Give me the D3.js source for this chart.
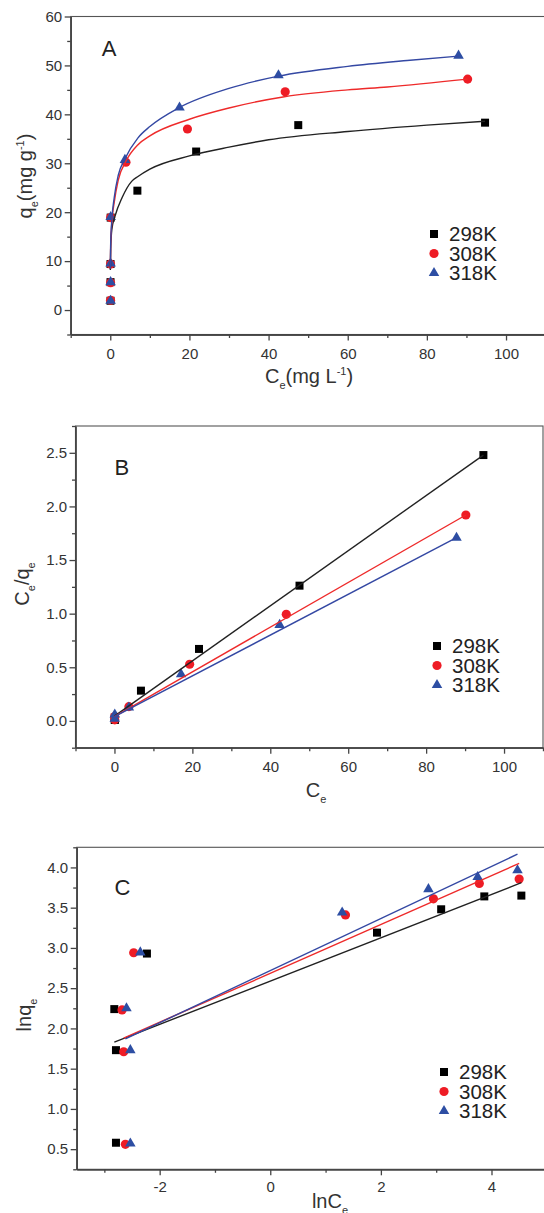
<!DOCTYPE html>
<html><head><meta charset="utf-8">
<script src="https://cdn.jsdelivr.net/npm/d3@7"></script>
<style>
body{margin:0;background:#fff}
svg{display:block}
text{font-family:"Liberation Sans",Arial,sans-serif}
</style>
</head><body>
<svg id="c" width="544" height="1213"></svg>
<script>
// ---------- data ----------
const seriesNames = ["298K","308K","318K"];

// Panel A: qe vs Ce (points)
const a298 = [[0.06,1.9],[0.06,5.7],[0.06,9.4],[0.11,18.9],[6.85,24.4],[21.7,32.4],[47.5,37.8],[94.7,38.3]];
const a308 = [[0.07,2.0],[0.07,5.6],[0.07,9.4],[0.09,18.9],[3.96,30.2],[19.5,37.0],[44.2,44.6],[90.3,47.2]];
const a318 = [[0.08,1.9],[0.08,5.7],[0.08,9.5],[0.1,19.0],[3.7,30.7],[17.5,41.4],[42.5,48.0],[88.0,52.0]];
// Panel A fitted curves
const aFit298 = [[0.02,8.2],[0.1,12.5],[0.4,16.5],[1.2,19.2],[3,23.0],[5.4,26.3],[7,27.3],[10,28.8],[20,31.5],[30,33.3],[40,34.8],[60,36.5],[80,37.8],[94.7,38.6]];
const aFit308 = [[0.02,8.5],[0.1,13],[0.4,18],[1,22],[2,26.5],[4,30.5],[7,33.8],[10,35.6],[20,39.0],[30,41.3],[44,43.6],[60,45.0],[70,45.6],[90.3,47.2]];
const aFit318 = [[0.02,8.5],[0.1,13.5],[0.4,18.5],[1,23],[2,27.5],[3.7,30.9],[7,35.2],[10,37.5],[17.5,41.4],[30,45.3],[42.5,47.8],[60,49.8],[75,51.0],[88,51.9]];

// Panel B: Ce/qe vs Ce
const b298 = [[0.07,0.03],[0.07,0.01],[0.11,0.01],[6.8,0.282],[21.7,0.671],[47.5,1.261],[94.7,2.479]];
const b308 = [[0.07,0.04],[0.07,0.01],[3.7,0.133],[19.3,0.528],[44.1,0.994],[90.2,1.92]];
const b318 = [[0.08,0.06],[0.08,0.02],[3.7,0.125],[17.1,0.435],[42.4,0.895],[87.8,1.708]];
const bFit298 = [[0,0.045],[94.7,2.479]];
const bFit308 = [[0,0.04],[90.2,1.92]];
const bFit318 = [[0,0.04],[87.8,1.708]];

// Panel C: lnqe vs lnCe
const c298 = [[-2.82,2.24],[-2.79,1.73],[-2.79,0.58],[-2.23,2.93],[1.93,3.19],[3.09,3.48],[3.87,3.64],[4.54,3.65]];
const c308 = [[-2.68,2.23],[-2.65,1.71],[-2.62,0.56],[-2.47,2.94],[1.36,3.41],[2.95,3.61],[3.78,3.80],[4.50,3.855]];
const c318 = [[-2.60,2.25],[-2.53,1.73],[-2.53,0.57],[-2.35,2.945],[1.30,3.44],[2.86,3.73],[3.75,3.88],[4.47,3.965]];
const cFit298 = [[-2.82,1.83],[4.54,3.81]];
const cFit308 = [[-2.65,1.88],[4.50,4.05]];
const cFit318 = [[-2.62,1.87],[4.47,4.165]];

// ticks
const aXMajor = [0,20,40,60,80,100], aXMinor = [-10,10,30,50,70,90,110];
const aYMajor = [0,10,20,30,40,50,60], aYMinor = [-5,5,15,25,35,45,55];
const bXMajor = [0,20,40,60,80,100], bXMinor = [-10,10,30,50,70,90,110];
const bYMajor = [0,0.5,1,1.5,2,2.5], bYMinor = [-0.25,0.25,0.75,1.25,1.75,2.25,2.75];
const cXMajor = [-2,0,2,4], cXMinor = [-3,-1,1,3,5];
const cYMajor = [0.5,1,1.5,2,2.5,3,3.5,4], cYMinor = [0.25,0.75,1.25,1.75,2.25,2.75,3.25,3.75,4.25];

// ---------- styles ----------
const colors = ["#000000","#ee1c25","#2d4ea3"];
const lineColors = ["#222222","#ee2a2a","#3448a3"];
const symbols = [d3.symbolSquare, d3.symbolCircle, d3.symbolTriangle];
const symSize = [64, 66, 48];
const axisColor = "#444", textColor = "#333";

const svg = d3.select("#c");

function rich(t, parts, size){
  let shift = 0;
  parts.forEach(p=>{
    const target = p.sub ? size*0.28 : p.sup ? -size*0.42 : 0;
    t.append("tspan").text(p.t)
      .attr("dy", (target-shift).toFixed(2))
      .attr("font-size", (p.sub||p.sup) ? size*0.55 : size);
    shift = target;
  });
}

function panel(cfg){
  const g = svg.append("g");
  const x = d3.scaleLinear().domain(cfg.xd).range(cfg.xr);
  const y = d3.scaleLinear().domain(cfg.yd).range(cfg.yr);
  const fmtY = cfg.yfmt, fmtX = d=>String(d);

  g.append("rect").attr("x",cfg.xr[0]).attr("y",cfg.yr[1])
    .attr("width",cfg.xr[1]-cfg.xr[0]).attr("height",cfg.yr[0]-cfg.yr[1])
    .attr("fill","none").attr("stroke","#555").attr("stroke-width",1.1);

  const style = ax => {
    ax.select(".domain").attr("stroke",axisColor).attr("stroke-width",1.3);
    ax.selectAll(".tick line").attr("stroke",axisColor).attr("stroke-width",1.3);
    ax.selectAll("text").attr("font-size",15).attr("fill",textColor)
      .attr("font-family","Liberation Sans, Arial, sans-serif");
  };
  const xa = g.append("g").attr("transform",`translate(0,${cfg.yr[0]})`)
    .call(d3.axisBottom(x).tickValues(cfg.xMaj).tickFormat(fmtX).tickSize(6).tickSizeOuter(0).tickPadding(cfg.xpad));
  style(xa);
  const xm = g.append("g").attr("transform",`translate(0,${cfg.yr[0]})`)
    .call(d3.axisBottom(x).tickValues(cfg.xMin).tickFormat("").tickSize(3.5).tickSizeOuter(0));
  style(xm);
  const ya = g.append("g").attr("transform",`translate(${cfg.xr[0]},0)`)
    .call(d3.axisLeft(y).tickValues(cfg.yMaj).tickFormat(fmtY).tickSize(6).tickSizeOuter(0).tickPadding(2.5));
  style(ya);
  const ym = g.append("g").attr("transform",`translate(${cfg.xr[0]},0)`)
    .call(d3.axisLeft(y).tickValues(cfg.yMin).tickFormat("").tickSize(3.5).tickSizeOuter(0));
  style(ym);

  cfg.pts.forEach((pts,i)=>{
    g.append("g").selectAll("path").data(pts).join("path")
      .attr("d", d3.symbol().type(symbols[i]).size(symSize[i]))
      .attr("transform", d=>`translate(${x(d[0])},${y(d[1])})`)
      .attr("fill", colors[i]);
  });
  cfg.fits.forEach((f,i)=>{
    g.append("path").datum(f)
      .attr("d", d3.line().x(d=>x(d[0])).y(d=>y(d[1])).curve(cfg.curve || d3.curveLinear))
      .attr("fill","none").attr("stroke",lineColors[i]).attr("stroke-width",1.4);
  });

  g.append("text").attr("x",cfg.letterPos[0]).attr("y",cfg.letterPos[1])
    .attr("font-size",22).attr("fill","#222").text(cfg.letter);

  seriesNames.forEach((s,i)=>{
    const ly = cfg.legend[1] + i*19.5;
    g.append("path").attr("d", d3.symbol().type(symbols[i]).size(symSize[i]))
      .attr("transform",`translate(${cfg.legend[0]},${ly})`).attr("fill",colors[i]);
    g.append("text").attr("x",cfg.legend[0]+15).attr("y",ly+7.3)
      .attr("font-size",20.5).attr("fill","#222").text(s);
  });

  const xt = g.append("text").attr("x",cfg.xTitlePos[0]).attr("y",cfg.xTitlePos[1])
    .attr("text-anchor","middle").attr("fill",textColor);
  rich(xt, cfg.xTitle, 20);
  const yt = g.append("text")
    .attr("transform",`translate(${cfg.yTitlePos[0]},${cfg.yTitlePos[1]}) rotate(-90)`)
    .attr("text-anchor","middle").attr("fill",textColor);
  rich(yt, cfg.yTitle, 20);
}

panel({
  xd:[-10,110], xr:[70.7,545.6], yd:[-5,60], yr:[334.5,16.5],
  xMaj:aXMajor, xMin:aXMinor, yMaj:aYMajor, yMin:aYMinor,
  yfmt:d=>String(d), xpad:7.5,
  pts:[a298,a308,a318], fits:[aFit298,aFit308,aFit318], curve:d3.curveMonotoneX,
  letter:"A", letterPos:[101.7,56],
  legend:[434,234],
  xTitle:[{t:"C"},{t:"e",sub:true},{t:"(mg L"},{t:"-1",sup:true},{t:")"}], xTitlePos:[309,383],
  yTitle:[{t:"q"},{t:"e",sub:true},{t:"(mg g"},{t:"-1",sup:true},{t:")"}], yTitlePos:[32,176]
});

panel({
  xd:[-10,110], xr:[75.5,543], yd:[-0.25,2.75], yr:[747.7,426],
  xMaj:bXMajor, xMin:bXMinor, yMaj:bYMajor, yMin:bYMinor,
  yfmt:d3.format(".1f"), xpad:7.5,
  pts:[b298,b308,b318], fits:[bFit298,bFit308,bFit318],
  letter:"B", letterPos:[114.5,475],
  legend:[437,646],
  xTitle:[{t:"C"},{t:"e",sub:true}], xTitlePos:[316,797],
  yTitle:[{t:"C"},{t:"e",sub:true},{t:"/q"},{t:"e",sub:true}], yTitlePos:[29,584]
});

panel({
  xd:[-3.5,5], xr:[76.7,546.8], yd:[0.25,4.25], yr:[1169.3,847.3],
  xMaj:cXMajor, xMin:cXMinor, yMaj:cYMajor, yMin:cYMinor,
  yfmt:d3.format(".1f"), xpad:6,
  pts:[c298,c308,c318], fits:[cFit298,cFit308,cFit318],
  letter:"C", letterPos:[114.5,895],
  legend:[444,1072],
  xTitle:[{t:"lnC"},{t:"e",sub:true}], xTitlePos:[330,1208],
  yTitle:[{t:"lnq"},{t:"e",sub:true}], yTitlePos:[31,1015]
});
</script>
</body></html>
